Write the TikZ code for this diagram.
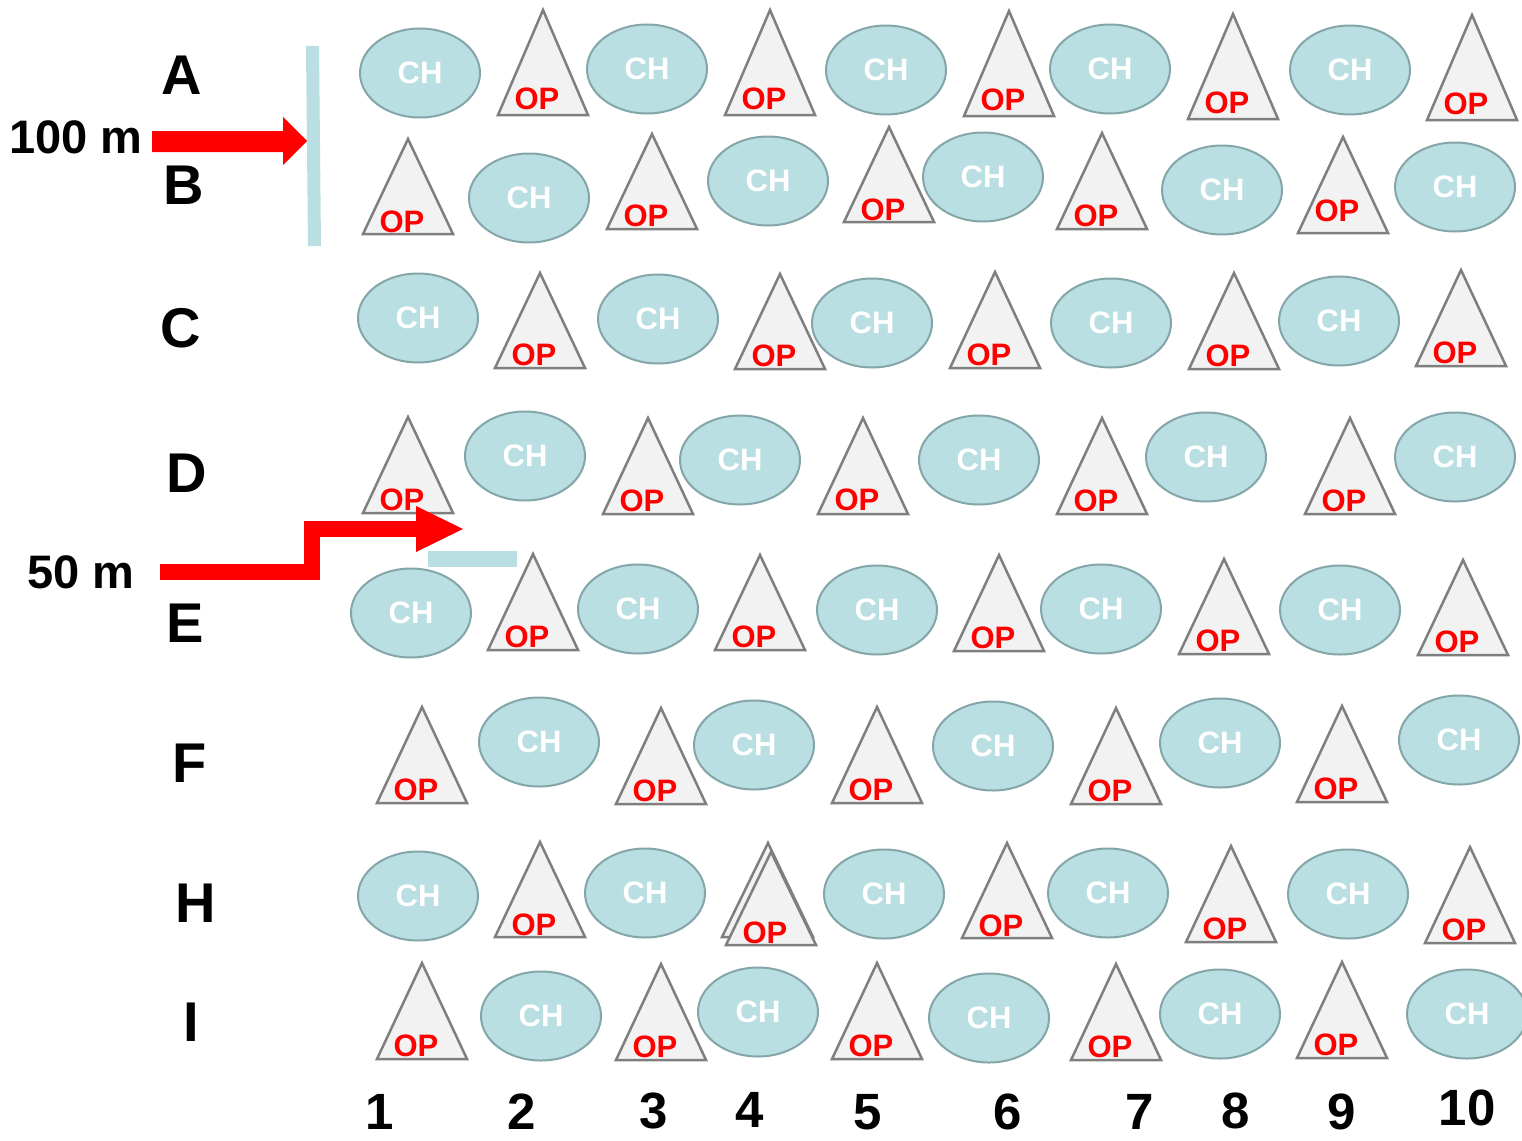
\documentclass[tikz,border=0pt]{standalone}
\usepackage{fontspec}
\setmainfont{Liberation Sans}
\usetikzlibrary{shapes.geometric}
\definecolor{chfill}{HTML}{B9DFE2}
\definecolor{chline}{HTML}{84A6A8}
\definecolor{opfill}{HTML}{F2F2F2}
\definecolor{opline}{HTML}{7F7F7F}
\definecolor{barblue}{HTML}{B9DFE2}
\tikzset{
 chnode/.style={ellipse, draw=chline, line width=2pt, fill=chfill, minimum width=120pt, minimum height=89pt, inner sep=0pt, text=white, font=\fontsize{31}{31}\selectfont\bfseries},
 tri/.style={draw=opline, line width=2.5pt, fill=opfill, line join=miter},
 optext/.style={text=red, font=\fontsize{31}{31}\selectfont\bfseries, inner sep=0pt},
 rowlab/.style={font=\fontsize{56}{56}\selectfont\bfseries, inner sep=0pt},
 collab/.style={font=\fontsize{51}{51}\selectfont\bfseries, inner sep=0pt},
 distlab/.style={font=\fontsize{47}{47}\selectfont\bfseries, inner sep=0pt},
 redline/.style={draw=red, line width=16pt, line join=miter},
}
\newcommand\chat[3]{\node[chnode] (#1) at (#2,#3) {CH};}
\newcommand\opat[5]{\draw[tri] (#2,#3) -- ({#2+45},#4) -- ({#2-45},#4) -- cycle; \node[optext] (#1) at ({#2-6},#5) {OP};}
\begin{document}
\begin{tikzpicture}[x=1pt,y=-1pt]
\useasboundingbox[fill=white] (0,0) rectangle (1522,1140);
% Row A
\chat{a1}{420}{73}
\opat{a2}{543}{10}{115}{99}
\chat{a3}{647}{69}
\opat{a4}{770}{10}{115}{99}
\chat{a5}{886}{70}
\opat{a6}{1009}{11}{116}{100}
\chat{a7}{1110}{69}
\opat{a8}{1233}{14}{119}{103}
\chat{a9}{1350}{70}
\opat{a10}{1472}{15}{120}{104}
% Row B
\opat{b1}{408}{139}{234}{222}
\chat{b2}{529}{198}
\opat{b3}{652}{134}{229}{216}
\chat{b4}{768}{181}
\opat{b5}{889}{127}{222}{210}
\chat{b6}{983}{177}
\opat{b7}{1102}{133}{229}{216}
\chat{b8}{1222}{190}
\opat{b9}{1343}{137}{233}{211}
\chat{b10}{1455}{187}
% Row C
\chat{c1}{418}{318}
\opat{c2}{540}{273}{368}{355}
\chat{c3}{658}{319}
\opat{c4}{780}{274}{369}{356}
\chat{c5}{872}{323}
\opat{c6}{995}{272}{368}{355}
\chat{c7}{1111}{323}
\opat{c8}{1234}{273}{369}{356}
\chat{c9}{1339}{321}
\opat{c10}{1461}{270}{366}{353}
% Row D
\opat{d1}{408}{417}{513}{500}
\chat{d2}{525}{456}
\opat{d3}{648}{418}{514}{501}
\chat{d4}{740}{460}
\opat{d5}{863}{418}{514}{500}
\chat{d6}{979}{460}
\opat{d7}{1102}{418}{514}{501}
\chat{d8}{1206}{457}
\opat{d9}{1350}{418}{514}{501}
\chat{d10}{1455}{457}
% Row E
\chat{e1}{411}{613}
\opat{e2}{533}{554}{650}{637}
\chat{e3}{638}{609}
\opat{e4}{760}{555}{650}{637}
\chat{e5}{877}{610}
\opat{e6}{999}{555}{651}{638}
\chat{e7}{1101}{609}
\opat{e8}{1224}{559}{654}{641}
\chat{e9}{1340}{610}
\opat{e10}{1463}{560}{655}{642}
% Row F
\opat{f1}{422}{707}{803}{790}
\chat{f2}{539}{742}
\opat{f3}{661}{708}{804}{791}
\chat{f4}{754}{745}
\opat{f5}{877}{707}{803}{790}
\chat{f6}{993}{746}
\opat{f7}{1116}{708}{804}{791}
\chat{f8}{1220}{743}
\opat{f9}{1342}{706}{802}{789}
\chat{f10}{1459}{740}
% Row H
\chat{h1}{418}{896}
\opat{h2}{540}{842}{937}{925}
\chat{h3}{645}{893}
\draw[tri] (768,843) -- (813,937) -- (722,937) -- cycle;
\opat{h4}{771}{852}{945}{933}
\chat{h5}{884}{894}
\opat{h6}{1007}{843}{938}{926}
\chat{h7}{1108}{893}
\opat{h8}{1231}{846}{942}{929}
\chat{h9}{1348}{894}
\opat{h10}{1470}{847}{943}{930}
% Row I
\opat{i1}{422}{963}{1059}{1046}
\chat{i2}{541}{1016}
\opat{i3}{661}{964}{1060}{1047}
\chat{i4}{758}{1012}
\opat{i5}{877}{963}{1059}{1046}
\chat{i6}{989}{1018}
\opat{i7}{1116}{964}{1060}{1047}
\chat{i8}{1220}{1014}
\opat{i9}{1342}{962}{1058}{1045}
\chat{i10}{1467}{1014}
% Row labels
\node[rowlab] (lA) at (182,75) {A};
\node[rowlab] (lB) at (184,185) {B};
\node[rowlab] (lC) at (181,328) {C};
\node[rowlab] (lD) at (187,473) {D};
\node[rowlab] (lE) at (185,623) {E};
\node[rowlab] (lF) at (190,763) {F};
\node[rowlab] (lH) at (196,903) {H};
\node[rowlab] (lI) at (191,1022) {I};
% Column labels
\node[collab] (n1) at (380,1112) {1};
\node[collab] (n2) at (522,1112) {2};
\node[collab] (n3) at (654,1111) {3};
\node[collab] (n4) at (750,1110) {4};
\node[collab] (n5) at (868,1112) {5};
\node[collab] (n6) at (1008,1112) {6};
\node[collab] (n7) at (1140,1112) {7};
\node[collab] (n8) at (1236,1111) {8};
\node[collab] (n9) at (1342,1112) {9};
\node[collab] (n10) at (1467,1108) {10};
% Bars
\fill[barblue] (306,46) -- (319,46) -- (321,246) -- (308,246) -- cycle;
\fill[barblue] (428,551) rectangle (517,567);
% Distance labels and arrows
\node[distlab] (d100) at (76,137) {100 m};
\node[distlab] (d50) at (81,572) {50 m};
\fill[red] (152,131) -- (283,131) -- (283,117) -- (307,141) -- (283,165) -- (283,152) -- (152,152) -- cycle;
\coordinate (s2) at (160,572);
\coordinate (k1) at (312,572);
\coordinate (k2) at (312,529);
\coordinate (t2) at (418,529);
\draw[redline] (s2) -- (k1) -- (k2) -- (t2);
\fill[red] (416,506) -- (463,529) -- (416,552) -- cycle;
\end{tikzpicture}
\end{document}
